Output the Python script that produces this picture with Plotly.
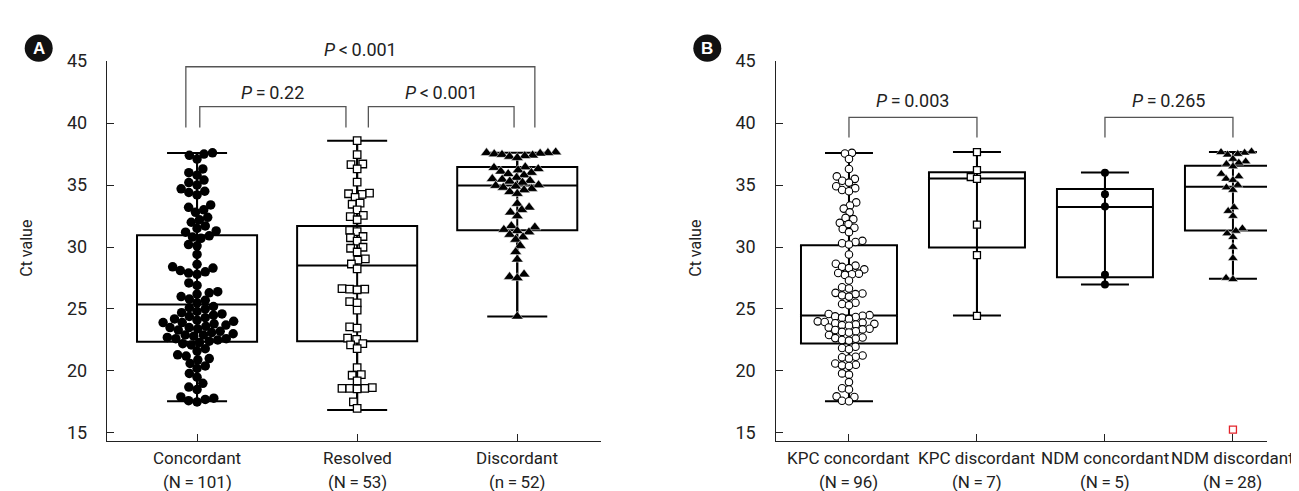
import math
import plotly.graph_objects as go

# ---------------- data ----------------
cats_A = ["Concordant", "Resolved", "Discordant"]
n_A = ["(N\u2009=\u2009101)", "(N\u2009=\u200953)", "(n\u2009=\u200952)"]
cats_B = ["KPC concordant", "KPC discordant", "NDM concordant", "NDM discordant"]
n_B = ["(N\u2009=\u200996)", "(N\u2009=\u20097)", "(N\u2009=\u20095)", "(N\u2009=\u200928)"]

concordant = [37.6, 37.5, 37.4, 37.1, 36.3, 36.0, 35.8, 35.4, 35.2, 35.0,
              34.7, 34.5, 34.4, 34.2, 33.4, 33.2, 33.0, 32.8, 32.4, 32.2, 32.0,
              31.7, 31.5, 31.3, 31.2, 30.9, 30.8, 30.7, 30.2, 30.1, 29.4,
              28.6, 28.4, 28.3, 28.1, 28.0, 27.9, 27.8, 27.1, 26.9,
              26.4, 26.3, 26.2, 26.0, 25.8, 25.7, 25.5, 25.2, 25.0, 25.1, 24.8,
              24.7, 24.6, 24.5, 24.4, 24.3, 24.2, 24.0, 24.1,
              23.9, 23.8, 23.7, 23.6, 23.5, 23.4, 23.3, 23.2, 23.9, 23.5,
              23.1, 23.0, 22.9, 22.8, 22.7, 22.6, 22.9, 22.6,
              22.5, 22.4, 22.3, 22.2, 22.1, 21.8, 21.6, 21.3, 21.2, 21.0, 20.9,
              20.6, 20.4, 20.2, 19.8, 19.5, 19.0, 18.7, 18.5,
              17.9, 17.8, 17.7, 17.6, 17.5]
resolved = [38.58, 37.46, 36.7, 36.65, 36.3, 35.23, 34.35, 34.3, 34.25, 34.0,
            33.55, 33.45, 33.0, 32.55, 32.45, 32.2, 31.35, 31.25, 30.85, 30.75,
            30.47, 29.98, 29.9, 29.6, 29.05, 28.95, 28.63, 28.24, 26.65, 26.6,
            26.6, 26.55, 25.6, 25.5, 24.9, 23.55, 23.45, 22.65, 22.55, 22.2,
            22.1, 21.8, 20.26, 19.7, 19.65, 19.2, 18.65, 18.6, 18.6, 18.6,
            18.55, 17.5, 16.98]
discordant = [37.65, 37.6, 37.6, 37.55, 37.5, 37.45, 37.4, 37.35, 37.3, 37.2,
              36.45, 36.4, 36.3, 36.2, 36.1, 36.0, 35.9, 35.8,
              35.6, 35.5, 35.45, 35.35, 35.3, 35.2,
              35.0, 34.95, 34.9, 34.8, 34.7, 34.6, 34.45, 34.3,
              33.5, 33.2, 33.0, 32.8, 32.5,
              31.7, 31.6, 31.4, 31.3, 31.2, 31.0, 30.8, 30.6,
              30.1, 29.6, 29.0, 27.8, 27.6, 27.5, 24.4]

kpc_conc = [37.6, 37.55, 37.1, 36.3, 35.7, 35.5, 35.35, 35.2, 34.9, 34.75, 34.6, 34.5,
            33.6, 33.35, 33.1, 32.8, 32.35, 32.25, 31.95, 31.85, 31.55, 31.45, 31.2,
            30.5, 30.4, 30.3, 30.2, 29.4, 28.65, 28.5, 28.4, 28.3, 28.2,
            27.9, 27.85, 27.8, 27.75, 27.3, 26.75, 26.65,
            26.3, 26.25, 26.2, 26.1, 26.0, 25.5, 25.4, 25.3,
            24.6, 24.5, 24.45, 24.4, 24.35, 24.3, 24.2,
            24.0, 23.95, 23.9, 23.85, 23.8, 23.75, 23.7, 23.65, 23.5,
            23.4, 23.35, 23.3, 23.2, 23.15, 23.1, 22.9,
            22.7, 22.65, 22.6, 22.5, 22.45, 21.95, 21.85, 21.75,
            21.25, 21.15, 21.1, 21.0, 20.6, 20.5, 20.45, 20.4,
            19.8, 19.7, 19.1, 18.6, 18.5, 17.95, 17.9, 17.6, 17.55]
kpc_disc = [37.66, 36.2, 35.65, 35.5, 31.8, 29.35, 24.45]
ndm_conc = [36.0, 34.26, 33.27, 27.77, 26.98]
ndm_disc = [37.7, 37.65, 37.6, 37.5, 37.45, 37.1, 36.9, 36.8, 36.7, 36.5,
            35.9, 35.7, 35.5, 35.4, 35.0, 34.8, 34.6, 33.2, 32.9, 32.5,
            31.5, 31.3, 31.1, 30.8, 30.0, 29.1, 27.5, 27.4]
ndm_disc_outlier = [15.27]

# box statistics
A_q1 = [22.35, 22.4, 31.35]
A_med = [25.36, 28.5, 34.97]
A_q3 = [30.94, 31.7, 36.46]
A_lo = [17.56, 16.85, 24.4]
A_hi = [37.58, 38.58, 37.6]

B_q1 = [22.22, 29.97, 27.56, 31.33]
B_med = [24.47, 35.52, 33.22, 34.87]
B_q3 = [30.15, 36.04, 34.68, 36.56]
B_lo = [17.55, 24.47, 26.98, 27.43]
B_hi = [37.58, 37.66, 36.02, 37.66]

p_A = ["<i>P</i>\u2009&lt;\u20090.001", "<i>P</i>\u2009=\u20090.22", "<i>P</i>\u2009&lt;\u20090.001"]
p_B = ["<i>P</i>\u2009=\u20090.003", "<i>P</i>\u2009=\u20090.265"]
y_ticks = [15, 20, 25, 30, 35, 40, 45]

# ---------------- layout constants ----------------
W, H = 1299, 491
FONT = "Roboto, sans-serif"
Y_RANGE = [14.36, 45]
Y_DOM = [(H - 433.3) / H, (H - 43.3) / H]
XA_DOM = [99 / W, 592.5 / W]
XA_RANGE = [-0.5625, 2.52]
XB_DOM = [767.5 / W, 1259 / W]
XB_RANGE = [-0.574, 3.266]
Y_PX = (433.3 - 43.3) / (Y_RANGE[1] - Y_RANGE[0])
XA_PX = (592.5 - 99) / (XA_RANGE[1] - XA_RANGE[0])
XB_PX = (1259 - 767.5) / (XB_RANGE[1] - XB_RANGE[0])


def swarm(vals, center, xpx, diam):
    """Beeswarm offsets: place each point as close to the centre as possible."""
    order = sorted(range(len(vals)), key=lambda i: vals[i])
    placed = []
    xs = [0.0] * len(vals)
    for i in order:
        yp = vals[i] * Y_PX
        cands = [0.0]
        for (px, py) in placed:
            dy = abs(yp - py)
            if dy < diam:
                dx = math.sqrt(diam * diam - dy * dy)
                cands += [px + dx, px - dx]
        best = None
        for c in sorted(cands, key=lambda v: (abs(v), v)):
            ok = all((c - px) ** 2 + (yp - py) ** 2 >= diam * diam - 1e-6 for px, py in placed)
            if ok:
                best = c
                break
        placed.append((best, yp))
        xs[i] = center + best / xpx
    return xs


fig = go.Figure()

BOXLINE = dict(color="black", width=2)


def add_boxes(xref, yref, n, q1, med, q3, lo, hi):
    fig.add_trace(go.Box(
        x=list(range(n)), q1=q1, median=med, q3=q3, lowerfence=lo, upperfence=hi,
        width=0.75, whiskerwidth=0.5, line=BOXLINE, fillcolor="rgba(0,0,0,0)",
        boxpoints=False, showlegend=False, hoverinfo="skip",
        xaxis=xref, yaxis=yref))
    xs, ys = [], []
    for i in range(n):
        xs += [i, i, None]
        ys += [lo[i], hi[i], None]
    fig.add_trace(go.Scatter(x=xs, y=ys, mode="lines", line=BOXLINE,
                             showlegend=False, hoverinfo="skip",
                             xaxis=xref, yaxis=yref))


add_boxes("x", "y", 3, A_q1, A_med, A_q3, A_lo, A_hi)
add_boxes("x2", "y2", 4, B_q1, B_med, B_q3, B_lo, B_hi)


def add_points(vals, center, xpx, diam, marker, xref, yref):
    fig.add_trace(go.Scatter(x=swarm(vals, center, xpx, diam), y=vals, mode="markers",
                             marker=marker, showlegend=False, hoverinfo="skip",
                             xaxis=xref, yaxis=yref))


add_points(concordant, 0, XA_PX, 8.6,
           dict(symbol="circle", size=9.5, color="black", line=dict(width=0)), "x", "y")
add_points(resolved, 1, XA_PX, 7.6,
           dict(symbol="square", size=7.5, color="white", line=dict(width=1.3, color="black")), "x", "y")
add_points(discordant, 2, XA_PX, 7.8,
           dict(symbol="triangle-up", size=10.5, color="black", line=dict(width=0.5, color="white")), "x", "y")

add_points(kpc_conc, 0, XB_PX, 7.0,
           dict(symbol="circle", size=7.5, color="white", line=dict(width=1.1, color="black")), "x2", "y2")
add_points(kpc_disc, 1, XB_PX, 6.5,
           dict(symbol="square", size=7, color="white", line=dict(width=1.3, color="black")), "x2", "y2")
add_points(ndm_conc, 2, XB_PX, 6.5,
           dict(symbol="circle", size=8, color="black", line=dict(width=0)), "x2", "y2")
add_points(ndm_disc, 3, XB_PX, 7.0,
           dict(symbol="triangle-up", size=9, color="black", line=dict(width=0.5, color="white")), "x2", "y2")
fig.add_trace(go.Scatter(x=[3] * len(ndm_disc_outlier), y=ndm_disc_outlier, mode="markers",
                         marker=dict(symbol="square-open", size=7, color="#e3242b", line=dict(width=1.3)),
                         showlegend=False, hoverinfo="skip", xaxis="x2", yaxis="y2"))

AX = dict(showgrid=False, zeroline=False, showline=True, linecolor="#222", linewidth=1.4,
          ticks="inside", ticklen=7, tickwidth=1.4, tickcolor="#222")

fig.update_layout(
    width=W, height=H, autosize=False,
    margin=dict(l=0, r=0, t=0, b=0),
    paper_bgcolor="white", plot_bgcolor="white",
    font=dict(family=FONT, color="#222"),
    xaxis=dict(AX, domain=XA_DOM, range=XA_RANGE, tickvals=[0, 1, 2], showticklabels=False, anchor="y"),
    yaxis=dict(AX, domain=Y_DOM, range=Y_RANGE, tickvals=y_ticks, anchor="x",
               tickfont=dict(size=18, family=FONT, color="#222"), ticklabelstandoff=15),
    xaxis2=dict(AX, domain=XB_DOM, range=XB_RANGE, tickvals=[0, 1, 2, 3], showticklabels=False, anchor="y2"),
    yaxis2=dict(AX, domain=Y_DOM, range=Y_RANGE, tickvals=y_ticks, anchor="x2",
                tickfont=dict(size=18, family=FONT, color="#222"), ticklabelstandoff=15),
)

# brackets (layout positions)
BR = dict(color="#555", width=1.3)
brackets_A = [(-0.07, 2.11, 44.55, 39.65), (0.017, 0.93, 41.33, 39.65), (1.07, 1.98, 41.33, 39.65)]
brackets_B = [(0, 1, 40.47, 38.84), (2, 3, 40.47, 38.84)]
for (x0, x1, top, bot) in brackets_A:
    fig.add_shape(type="path", path=f"M {x0},{bot} L {x0},{top} L {x1},{top} L {x1},{bot}",
                  xref="x", yref="y", line=BR)
for (x0, x1, top, bot) in brackets_B:
    fig.add_shape(type="path", path=f"M {x0},{bot} L {x0},{top} L {x1},{top} L {x1},{bot}",
                  xref="x2", yref="y2", line=BR)

PFONT = dict(size=18, family=FONT, color="#222")
p_pos_A = [(1.02, (H - 31) / H), (0.47, (H - 75) / H), (1.525, (H - 75) / H)]
for txt, (x, y) in zip(p_A, p_pos_A):
    fig.add_annotation(text=txt, x=x, y=y, xref="x", yref="paper", showarrow=False,
                       font=PFONT, xanchor="center", yanchor="middle")
p_pos_B = [(0.5, (H - 84) / H), (2.5, (H - 84) / H)]
for txt, (x, y) in zip(p_B, p_pos_B):
    fig.add_annotation(text=txt, x=x, y=y, xref="x2", yref="paper", showarrow=False,
                       font=PFONT, xanchor="center", yanchor="middle")

# category labels
CFONT = dict(size=17, family=FONT, color="#222")
for i, (c, n) in enumerate(zip(cats_A, n_A)):
    fig.add_annotation(text=c, x=i, y=(H - 451) / H, xref="x", yref="paper", showarrow=False,
                       font=CFONT, xanchor="center", yanchor="middle")
    fig.add_annotation(text=n, x=i, y=(H - 476) / H, xref="x", yref="paper", showarrow=False,
                       font=CFONT, xanchor="center", yanchor="middle")
for i, (c, n) in enumerate(zip(cats_B, n_B)):
    fig.add_annotation(text=c, x=i, y=(H - 451) / H, xref="x2", yref="paper", showarrow=False,
                       font=CFONT, xanchor="center", yanchor="middle")
    fig.add_annotation(text=n, x=i, y=(H - 476) / H, xref="x2", yref="paper", showarrow=False,
                       font=CFONT, xanchor="center", yanchor="middle")

# y-axis titles
for xp in (19, 688):
    fig.add_annotation(text="Ct value", x=xp / W, y=(H - 236) / H, xref="paper", yref="paper",
                       showarrow=False, textangle=-90, font=dict(size=16, family=FONT, color="#222"),
                       xanchor="center", yanchor="middle")

# panel letters
for letter, cx in (("A", 30.7), ("B", 699.3)):
    r = 14
    fig.add_shape(type="circle", xref="paper", yref="paper",
                  x0=(cx - r) / W, x1=(cx + r) / W, y0=(H - 30 - r) / H, y1=(H - 30 + r) / H,
                  fillcolor="#111", line=dict(width=0))
    fig.add_annotation(text=f"<b>{letter}</b>", x=cx / W, y=(H - 30) / H, xref="paper", yref="paper",
                       showarrow=False, font=dict(size=17, family="Liberation Sans, Arial, sans-serif", color="white"),
                       xanchor="center", yanchor="middle")

fig.write_html("out.html")
